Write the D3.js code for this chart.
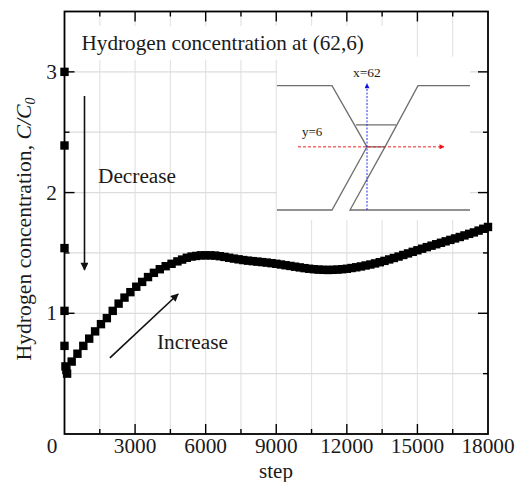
<!DOCTYPE html>
<html><head><meta charset="utf-8">
<script src="https://cdnjs.cloudflare.com/ajax/libs/d3/7.8.5/d3.min.js"></script>
<style>html,body{margin:0;background:#fff}svg{display:block}text{font-family:"Liberation Serif",serif;fill:#1a1a1a}</style>
</head><body><svg id="c" width="522" height="482"></svg>
<script>
const steps = [0,0,0,0,0,40,80,110,305,550,800,1050,1300,1550,1800,2050,2300,2550,2800,3050,3300,3550,3800,4050,4300,4550,4800,5000,5200,5400,5600,5800,6000,6200,6400,6600,6800,7000,7200,7400,7600,7800,8000,8200,8400,8600,8800,9000,9200,9400,9600,9800,10000,10200,10400,10600,10800,11000,11200,11400,11600,11800,12000,12200,12400,12600,12800,13000,13200,13400,13600,13800,14000,14200,14400,14600,14800,15000,15200,15400,15600,15800,16000,16200,16400,16600,16800,17000,17200,17400,17600,17800,18000];
const conc = [3.0,2.39,1.54,1.02,0.73,0.56,0.53,0.5,0.6,0.665,0.73,0.79,0.85,0.91,0.96,1.02,1.08,1.13,1.175,1.22,1.26,1.3,1.335,1.365,1.39,1.41,1.43,1.445,1.46,1.47,1.475,1.48,1.48,1.48,1.478,1.473,1.467,1.46,1.453,1.447,1.441,1.436,1.432,1.428,1.424,1.42,1.415,1.41,1.404,1.398,1.392,1.386,1.38,1.374,1.369,1.365,1.362,1.36,1.359,1.36,1.362,1.365,1.369,1.375,1.381,1.388,1.396,1.404,1.413,1.423,1.434,1.446,1.458,1.47,1.483,1.496,1.509,1.522,1.535,1.548,1.56,1.572,1.584,1.596,1.608,1.62,1.632,1.645,1.658,1.67,1.685,1.7,1.715];
const xMajor = [0,3000,6000,9000,12000,15000,18000];
const xMinor = [1500,4500,7500,10500,13500,16500];
const yMajor = [1,2,3];
const yMinor = [0.5,1.5,2.5];
const schemLeft = [[0,0],[55,0],[90,61],[55,124],[0,124]];
const schemRight = [[193,0],[141,0],[108,61],[73,124],[193,124]];
const schemBar = [[79,39],[119,39]];
const schemNeck = [[90,61],[108,61]];
const probeV = [[90,124],[90,-2]];
const probeH = [[21,61],[167,61]];

const x = d3.scaleLinear().domain([0,18000]).range([64.5,488]);
const y = d3.scaleLinear().domain([0,3.5]).range([434,11.5]);
const svg = d3.select("#c");
const defs = svg.append("defs");
function marker(id,color,w,h){
  defs.append("marker").attr("id",id).attr("viewBox","0 0 10 10").attr("refX",9).attr("refY",5)
    .attr("markerWidth",w).attr("markerHeight",h).attr("markerUnits","userSpaceOnUse").attr("orient","auto")
    .append("path").attr("d","M0,0L10,5L0,10Z").attr("fill",color);
}
marker("ak","#111",9,8); marker("ar","#f01010",6,5); marker("ab","#1010e0",6,5);

// grid
svg.append("g").selectAll("line").data(xMajor.concat(xMinor).filter(d=>d>0&&d<18000)).join("line")
  .attr("x1",x).attr("x2",x).attr("y1",y.range()[0]).attr("y2",y.range()[1]).attr("stroke","#e4e4e4").attr("stroke-width",1.2);
svg.append("g").selectAll("line").data(yMajor.concat(yMinor)).join("line")
  .attr("x1",x.range()[0]).attr("x2",x.range()[1]).attr("y1",y).attr("y2",y).attr("stroke","#dcdcdc").attr("stroke-width",1.2);

// title backing
svg.append("rect").attr("x",x(300)).attr("y",y(3.38)).attr("width",x(14200)-x(300)).attr("height",y(3.1)-y(3.38)).attr("fill","#fff");

// inset
const ix = d3.scaleLinear().domain([0,193]).range([277,470]);
const iy = d3.scaleLinear().domain([0,124]).range([85.7,210]);
svg.append("rect").attr("x",ix(0)).attr("y",iy(-29)).attr("width",ix(193)-ix(0)).attr("height",iy(134)-iy(-29)).attr("fill","#fff");
const il = d3.line().x(d=>ix(d[0])).y(d=>iy(d[1]));
[schemLeft,schemRight,schemBar,schemNeck].forEach(p=>{
  svg.append("path").attr("d",il(p)).attr("fill","none").attr("stroke","#6e6e6e").attr("stroke-width",1.3);
});
svg.append("path").attr("d",il(probeV)).attr("stroke","#2a2ae8").attr("stroke-width",1).attr("stroke-dasharray","2 1.5").attr("marker-end","url(#ab)");
svg.append("path").attr("d",il(probeH)).attr("stroke","#f02020").attr("stroke-width",1).attr("stroke-dasharray","3 2").attr("marker-end","url(#ar)");
svg.append("text").attr("x",ix(76)).attr("y",iy(-9)).attr("font-size",13.5).text("x=62");
svg.append("text").attr("x",ix(25)).attr("y",iy(50)).attr("font-size",13).text("y=6");

// frame & ticks
const frame = svg.append("g");
frame.append("rect").attr("x",x(0)).attr("y",y(3.5)).attr("width",x(18000)-x(0)).attr("height",y(0)-y(3.5))
  .attr("fill","none").attr("stroke","#000").attr("stroke-width",1.8);
const tick=(vals,len)=>{
  vals.forEach(v=>{
    [[y(0),-len],[y(3.5),len]].forEach(([b,l])=>frame.append("line").attr("x1",x(v)).attr("x2",x(v)).attr("y1",b).attr("y2",b+l).attr("stroke","#000").attr("stroke-width",1.4));
  });
};
tick(xMajor.slice(1,-1),10); tick(xMinor,5);
const ytick=(vals,len)=>{
  vals.forEach(v=>{
    [[x(0),len],[x(18000),-len]].forEach(([b,l])=>frame.append("line").attr("x1",b).attr("x2",b+l).attr("y1",y(v)).attr("y2",y(v)).attr("stroke","#000").attr("stroke-width",1.4));
  });
};
ytick(yMajor,10); ytick(yMinor,5);

// labels
svg.append("g").selectAll("text").data(xMajor).join("text").attr("x",d=>d===0?52:x(d)).attr("y",453).attr("text-anchor","middle").attr("font-size",21.3).text(d=>d);
svg.append("g").selectAll("text").data(yMajor).join("text").attr("x",57).attr("y",d=>y(d)+7).attr("text-anchor","end").attr("font-size",21.3).text(d=>d);
svg.append("text").attr("x",276).attr("y",478).attr("text-anchor","middle").attr("font-size",21).text("step");
const yl = svg.append("text").attr("transform","translate(31,229) rotate(-90)").attr("text-anchor","middle").attr("font-size",21.7);
yl.append("tspan").text("Hydrogen concentration, ");
yl.append("tspan").attr("font-style","italic").text("C/C");
yl.append("tspan").attr("font-style","italic").attr("font-size",14).attr("dy",4).text("0");
svg.append("text").attr("x",81.5).attr("y",49.5).attr("font-size",21.2).text("Hydrogen concentration at (62,6)");
svg.append("text").attr("x",98).attr("y",182.5).attr("font-size",21.3).text("Decrease");
svg.append("text").attr("x",157).attr("y",348.5).attr("font-size",21.3).text("Increase");

// annotation arrows
svg.append("line").attr("x1",x(850)).attr("x2",x(850)).attr("y1",y(2.8)).attr("y2",y(1.36)).attr("stroke","#111").attr("stroke-width",1.6).attr("marker-end","url(#ak)");
svg.append("line").attr("x1",x(1930)).attr("y1",y(0.63)).attr("x2",x(4830)).attr("y2",y(1.16)).attr("stroke","#111").attr("stroke-width",1.6).attr("marker-end","url(#ak)");

// points
svg.append("g").selectAll("rect").data(steps.map((s,i)=>[s,conc[i]])).join("rect")
  .attr("x",d=>x(d[0])-4.2).attr("y",d=>y(d[1])-4.2).attr("width",8.4).attr("height",8.4).attr("fill","#000");
</script></body></html>
